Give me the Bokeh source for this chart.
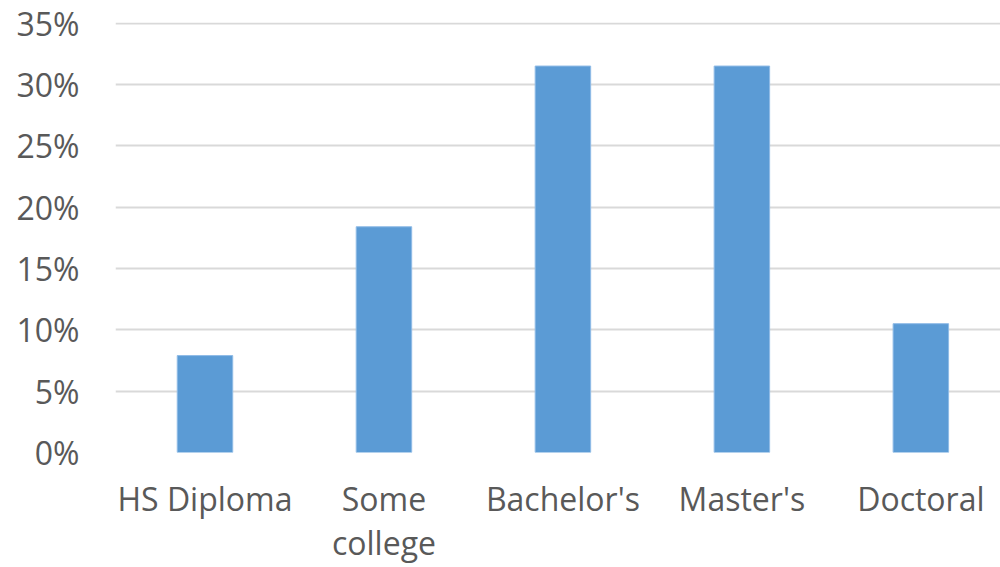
from bokeh.plotting import figure
from bokeh.models import ColumnDataSource, Range1d, FixedTicker, PrintfTickFormatter
from bokeh.embed import file_html
from bokeh.resources import INLINE

# Share of respondents by highest level of education (percent)
categories = ["HS Diploma", "Some\ncollege", "Bachelor's", "Master's", "Doctoral"]
shares = [7.9, 18.4, 31.5, 31.5, 10.5]
y_ticks = [0, 5, 10, 15, 20, 25, 30, 35]

positions = list(range(len(categories)))
source = ColumnDataSource(data=dict(x=positions, share=shares))

p = figure(
    width=1000, height=567,
    x_range=Range1d(-0.5, 4.445), y_range=Range1d(0, 35.05),
    output_backend="svg", toolbar_location=None,
    min_border_left=115, min_border_right=0,
    min_border_top=22, min_border_bottom=115,
)

p.vbar(x="x", top="share", width=0.31, source=source,
       fill_color="#5b9bd5", line_color="#8fbbe6", line_width=1)

text_color = "#595959"
font = "Open Sans"

# y axis: percentage ticks every 5%
p.yaxis.ticker = FixedTicker(ticks=y_ticks)
p.yaxis.formatter = PrintfTickFormatter(format="%d%%")
p.yaxis.axis_line_color = None
p.yaxis.major_tick_line_color = None
p.yaxis.minor_tick_line_color = None
p.yaxis.major_tick_out = 0
p.yaxis.major_label_standoff = 36
p.yaxis.major_label_text_font = font
p.yaxis.major_label_text_font_size = "32px"
p.yaxis.major_label_text_color = text_color

# x axis: category names
p.xaxis.ticker = FixedTicker(ticks=positions)
p.xaxis.major_label_overrides = {i: c for i, c in zip(positions, categories)}
p.xaxis.axis_line_color = None
p.xaxis.major_tick_line_color = None
p.xaxis.minor_tick_line_color = None
p.xaxis.major_tick_out = 0
p.xaxis.major_label_standoff = 24
p.xaxis.major_label_text_font = font
p.xaxis.major_label_text_font_size = "32px"
p.xaxis.major_label_text_line_height = 1.03
p.xaxis.major_label_text_color = text_color

p.xgrid.grid_line_color = None
p.ygrid.grid_line_color = "#d9d9d9"
p.ygrid.grid_line_width = 2

p.outline_line_color = None
p.background_fill_color = "white"
p.border_fill_color = "white"

open("out.html", "w").write(file_html(p, INLINE))
